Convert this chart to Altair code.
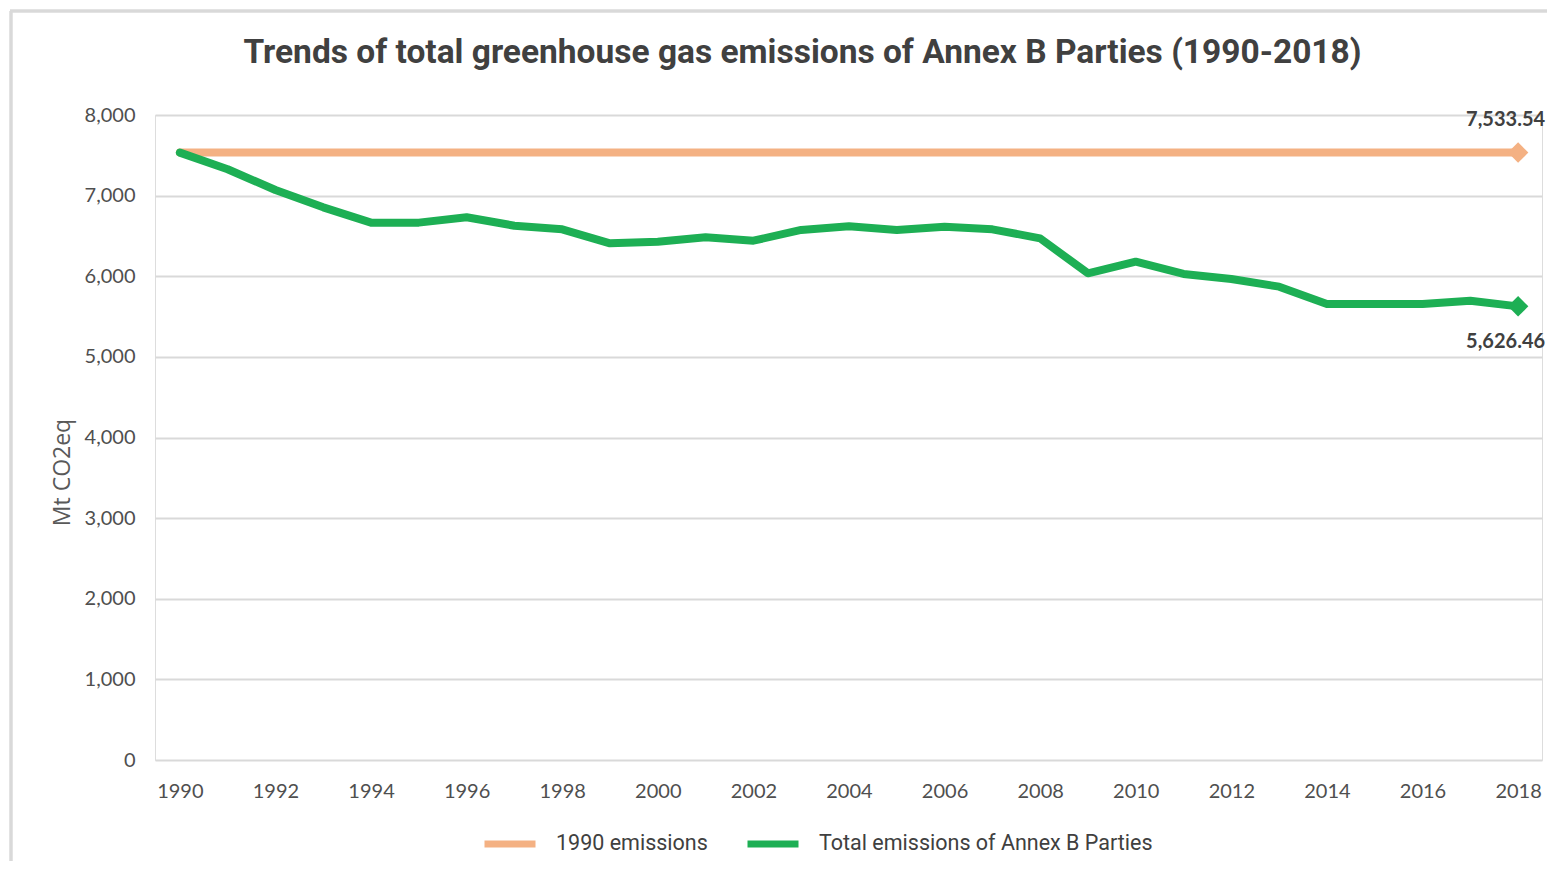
import altair as alt
import pandas as pd

# ---- data ----
years = list(range(1990, 2019))
total_emissions = [7533.54, 7327, 7070, 6855, 6665, 6665, 6731, 6627, 6582, 6408,
                   6429, 6483, 6441, 6574, 6620, 6574, 6614, 6582, 6470, 6036,
                   6181, 6028, 5966, 5871, 5656, 5656, 5656, 5697, 5626.46]
base_1990 = 7533.54
series_names = ["1990 emissions", "Total emissions of Annex B Parties"]
series_colors = ["#F4B183", "#1DAF54"]
y_ticks = [0, 1000, 2000, 3000, 4000, 5000, 6000, 7000, 8000]
x_ticks = list(range(1990, 2019, 2))

rows = []
for y in [years[0], years[-1]]:
    rows.append({"year": y, "value": base_1990, "series": series_names[0]})
for y, v in zip(years, total_emissions):
    rows.append({"year": y, "value": v, "series": series_names[1]})
df = pd.DataFrame(rows)

end_df = pd.DataFrame({
    "year": [years[-1], years[-1]],
    "value": [base_1990, total_emissions[-1]],
    "series": series_names,
})

W, H = 1387, 645
PAD_L, PAD_T, PAD_R, PAD_B = 147, 107, 5, 101

x_scale = alt.Scale(domain=[1989.48, 2018.5], nice=False, zero=False)
y_scale = alt.Scale(domain=[0, 8000], nice=False)
color_scale = alt.Scale(domain=series_names, range=series_colors)

x_enc = alt.X("year:Q", scale=x_scale,
              axis=alt.Axis(values=x_ticks, format="d", title=None, grid=False,
                            domain=False, ticks=False, tickSize=0,
                            labelFont="Lato", labelFontSize=20,
                            labelColor="#4F4F4F", labelPadding=21,
                            labelFlush=False, labelOverlap=False))
y_enc = alt.Y("value:Q", scale=y_scale,
              axis=alt.Axis(values=y_ticks, format=",d", title="Mt CO2eq",
                            domain=False, ticks=False, tickSize=0,
                            grid=True, gridColor="#D9D9D9", gridWidth=2,
                            labelFont="Lato", labelFontSize=20,
                            labelColor="#4F4F4F", labelPadding=20,
                            titleFont="Open Sans", titleFontSize=23,
                            titleFontWeight="normal", titleColor="#595959",
                            titleX=-93, titleY=357, titleAngle=-90,
                            titleAlign="center", titleBaseline="middle"))

base = alt.Chart(df)

lines = base.mark_line(strokeWidth=8, strokeCap="round", strokeJoin="round").encode(
    x=x_enc,
    y=y_enc,
    color=alt.Color("series:N", scale=color_scale,
                    legend=alt.Legend(title=None, orient="none", direction="horizontal",
                                      legendX=326, legendY=700,
                                      symbolType="stroke", symbolSize=2601,
                                      symbolStrokeWidth=7, labelFont="Roboto",
                                      labelFontSize=21.5, labelColor="#404040",
                                      labelOffset=17, columnPadding=25, padding=0,
                                      labelLimit=600)),
    order=alt.Order("year:Q"),
)

layers = [lines]
for name, col in zip(series_names, series_colors):
    pt = alt.Chart(end_df).transform_filter(alt.datum.series == name).mark_point(
        shape="diamond", filled=True, size=420, opacity=1, color=col
    ).encode(x=alt.X("year:Q", scale=x_scale), y=alt.Y("value:Q", scale=y_scale))
    layers.append(pt)

offsets = [-33, 36]
for name, dy in zip(series_names, offsets):
    tx = alt.Chart(end_df).transform_filter(alt.datum.series == name).mark_text(
        font="Lato", fontSize=20, fontWeight="bold", color="#404040",
        dx=27, dy=dy, align="right", baseline="middle"
    ).encode(x=alt.X("year:Q", scale=x_scale), y=alt.Y("value:Q", scale=y_scale),
             text=alt.Text("value:Q", format=",.2f"))
    layers.append(tx)

frame_left = alt.Chart(end_df).mark_rule(color="#D9D9D9", strokeWidth=3).encode(
    x=alt.value(-144), y=alt.value(-104), y2=alt.value(H + PAD_B))
frame_top = alt.Chart(end_df).mark_rule(color="#D9D9D9", strokeWidth=3).encode(
    x=alt.value(-145), x2=alt.value(W + PAD_R), y=alt.value(-104))
layers += [frame_left, frame_top]

chart = alt.layer(*layers).properties(
    width=W, height=H,
    title=alt.TitleParams(
        "Trends of total greenhouse gas emissions of Annex B Parties (1990-2018)",
        font="Roboto", fontSize=33.5, fontWeight="bold", color="#404040",
        anchor="middle", frame="group", dx=-46, offset=-86.5, baseline="alphabetic"),
    autosize=alt.AutoSizeParams(type="none"),
    padding={"left": PAD_L, "top": PAD_T, "right": PAD_R, "bottom": PAD_B},
).configure_view(stroke=None).configure(background="white")

chart.save("out.html", embed_options={"renderer": "svg", "actions": False})
